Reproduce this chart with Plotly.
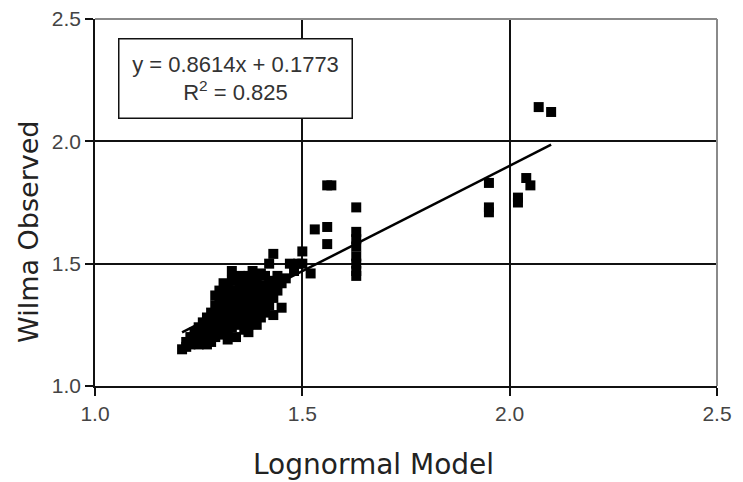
import plotly.graph_objects as go

# Observed vs model values
model_x = [
    1.21, 1.22, 1.22, 1.23, 1.23, 1.24, 1.24, 1.25, 1.25, 1.25,
    1.26, 1.26, 1.26, 1.27, 1.27, 1.27, 1.27, 1.28, 1.28, 1.28,
    1.28, 1.29, 1.29, 1.29, 1.29, 1.30, 1.30, 1.30, 1.30, 1.31,
    1.31, 1.31, 1.31, 1.32, 1.32, 1.32, 1.32, 1.32, 1.33, 1.33,
    1.33, 1.33, 1.33, 1.34, 1.34, 1.34, 1.34, 1.34, 1.35, 1.35,
    1.35, 1.35, 1.36, 1.36, 1.36, 1.36, 1.37, 1.37, 1.37, 1.37,
    1.38, 1.38, 1.38, 1.38, 1.39, 1.39, 1.39, 1.40, 1.40, 1.40,
    1.40, 1.41, 1.41, 1.41, 1.42, 1.42, 1.42, 1.42, 1.43, 1.43,
    1.43, 1.44, 1.44, 1.45, 1.46, 1.47, 1.48, 1.49, 1.50, 1.50,
    1.52, 1.53, 1.56, 1.56, 1.56, 1.57, 1.63, 1.63, 1.63, 1.63,
    1.63, 1.63, 1.63, 1.63, 1.95, 1.95, 1.95, 2.02, 2.02, 2.04,
    2.05, 2.07, 2.10,
    1.30, 1.31, 1.33, 1.35, 1.36, 1.37, 1.38, 1.39, 1.40, 1.29,
    1.32, 1.34, 1.37, 1.39, 1.43, 1.45, 1.41, 1.44,
]
observed_y = [
    1.15, 1.16, 1.18, 1.17, 1.20, 1.19, 1.22, 1.17, 1.21, 1.24,
    1.19, 1.23, 1.26, 1.17, 1.21, 1.25, 1.28, 1.18, 1.22, 1.27,
    1.30, 1.20, 1.24, 1.29, 1.33, 1.21, 1.26, 1.31, 1.36, 1.23,
    1.28, 1.33, 1.38, 1.22, 1.25, 1.30, 1.35, 1.40, 1.24, 1.27,
    1.32, 1.37, 1.47, 1.25, 1.29, 1.34, 1.39, 1.43, 1.26, 1.31,
    1.36, 1.41, 1.23, 1.28, 1.33, 1.38, 1.25, 1.30, 1.35, 1.40,
    1.27, 1.32, 1.37, 1.42, 1.29, 1.34, 1.39, 1.28, 1.32, 1.36,
    1.41, 1.30, 1.35, 1.40, 1.33, 1.38, 1.43, 1.50, 1.54, 1.36,
    1.41, 1.39, 1.45, 1.42, 1.44, 1.50, 1.47, 1.50, 1.50, 1.55,
    1.46, 1.64, 1.65, 1.58, 1.82, 1.82, 1.73, 1.63, 1.60, 1.57,
    1.53, 1.50, 1.47, 1.45, 1.83, 1.73, 1.71, 1.77, 1.75, 1.85,
    1.82, 2.14, 2.12,
    1.39, 1.42, 1.43, 1.45, 1.43, 1.45, 1.47, 1.44, 1.46, 1.37,
    1.19, 1.20, 1.22, 1.25, 1.29, 1.32, 1.45, 1.42,
]

# Linear trendline shown on the chart
slope = 0.8614
intercept = 0.1773
r_squared = 0.825

tick_vals = [1.0, 1.5, 2.0, 2.5]
tick_text = ["1.0", "1.5", "2.0", "2.5"]

x_title = "Lognormal Model"
y_title = "Wilma Observed"

line_x = [min(model_x), max(model_x)]
line_y = [slope * v + intercept for v in line_x]

fig = go.Figure()
fig.add_trace(go.Scatter(
    x=model_x, y=observed_y, mode="markers",
    marker=dict(symbol="square", size=10, color="black", line=dict(width=0)),
    showlegend=False, hoverinfo="x+y",
))
fig.add_trace(go.Scatter(
    x=line_x, y=line_y, mode="lines",
    line=dict(color="black", width=2.5),
    showlegend=False, hoverinfo="skip",
))

axis_common = dict(
    range=[1.0, 2.5], tickvals=tick_vals, ticktext=tick_text,
    showgrid=True, gridcolor="#111111", gridwidth=1.5,
    showline=True, linecolor="#111111", linewidth=1.5,
    ticks="outside", ticklen=8, tickwidth=1.5, tickcolor="#111111",
    tickfont=dict(family="Liberation Sans, Arial, sans-serif", size=21, color="#444444"),
    ticklabeloverflow="allow",
    zeroline=False, fixedrange=True, automargin=False,
)

fig.update_layout(
    width=735, height=474,
    margin=dict(l=87, r=26, t=11, b=96),
    paper_bgcolor="white", plot_bgcolor="white",
    xaxis=axis_common,
    yaxis=axis_common,
    shapes=[
        dict(type="line", xref="paper", yref="paper", x0=0, x1=1, y0=1, y1=1,
             line=dict(color="#8a8a8a", width=2)),
        dict(type="line", xref="paper", yref="paper", x0=1, x1=1, y0=0, y1=1,
             line=dict(color="#8a8a8a", width=2)),
    ],
    annotations=[
        dict(
            xref="x", yref="y", x=1.340, y=2.258,
            text=f"y = {slope}x + {intercept}<br>R<sup>2</sup> = {r_squared}",
            showarrow=False, align="center",
            font=dict(family="Liberation Sans, Arial, sans-serif", size=22, color="#333333"),
            bgcolor="white", bordercolor="#111111", borderwidth=1.5, borderpad=3,
            width=226, height=72,
        ),
        dict(
            xref="paper", yref="paper", x=0.447, y=-0.214,
            text=x_title, showarrow=False,
            font=dict(family="DejaVu Sans, sans-serif", size=28, color="#222222"),
            xanchor="center", yanchor="middle",
        ),
        dict(
            xref="paper", yref="paper", x=-0.106, y=0.42,
            text=y_title, showarrow=False, textangle=-90,
            font=dict(family="DejaVu Sans, sans-serif", size=27, color="#222222"),
            xanchor="center", yanchor="middle",
        ),
    ],
)

fig.write_html("out.html")
